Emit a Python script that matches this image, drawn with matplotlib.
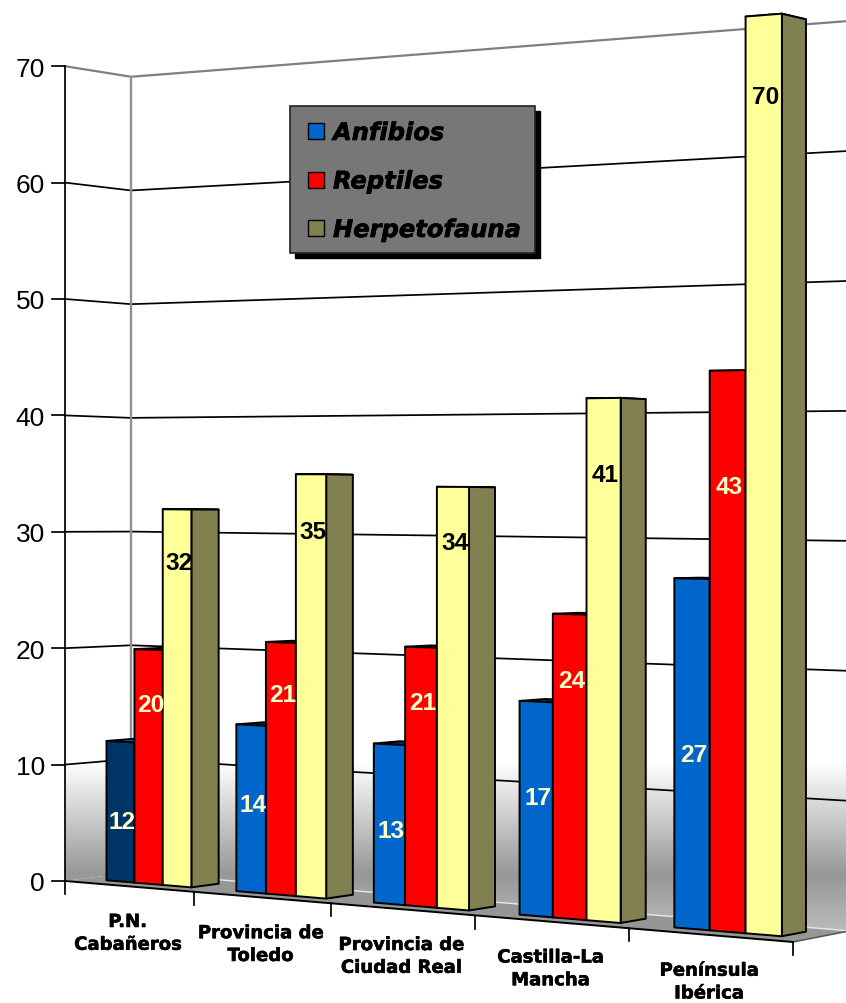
import matplotlib
matplotlib.use('Agg')
import matplotlib.pyplot as plt
import matplotlib.patheffects as pe
import numpy as np
from matplotlib.patches import Polygon, Rectangle

categories = [
    'P.N.\nCabañeros', 'Provincia de\nToledo', 'Provincia de\nCiudad Real',
    'Castilla-La\nMancha', 'Península\nIbérica']
series_names = ['Anfibios', 'Reptiles', 'Herpetofauna']
anfibios = [12, 14, 13, 17, 27]
reptiles = [20, 21, 21, 24, 43]
herpetofauna = [32, 35, 34, 41, 70]
y_ticks = [0, 10, 20, 30, 40, 50, 60, 70]

# how far each value label sits below the top of its bar, in pixels
label_drop = [
    [77, 52, 51],
    [77, 50, 55],
    [84, 53, 53],
    [93, 64, 74],
    [173, 114, 79]]

front_colors = ['#0066CC', '#FF0000', '#FFFF99']
top_colors = ['#003366', '#800000', '#FFFF99']
label_colors = ['#FFFFCC', '#FFFFCC', '#000000']
side_color = '#808050'
legend_colors = ['#0066CC', '#FF0000', '#808050']

# bar layout inside a category cell and inside the floor depth
BAR_START = 0.17
BAR_WIDTH = 0.22
DEPTH_FRONT = 0.30
DEPTH_BACK = 0.72


def project(x, y, z):
    # x: category position, y: value, z: depth (0 front, 1 back wall)
    wx = 1 - 0.0277 * x + 0.0237 * z
    wy = 1 - 0.02566 * x + 0.0237 * z
    px = (123.63 * x + 69.1 * z + 65) / wx
    py = (882 - 12.0 * x - 11.64 * y + 12.4 * z) / wy
    return px, py


fig = plt.figure(figsize=(8.46, 10.04), dpi=100)
ax = fig.add_axes([0, 0, 1, 1])
ax.set_xlim(0, 846)
ax.set_ylim(1004, 0)
ax.axis('off')

n_cat = len(categories)
y_max = y_ticks[-1]

# walls share one vertical shading
walls = [
    [project(0, 0, 0), project(0, y_max, 0),
     project(0, y_max, 1), project(0, 0, 1)],
    [project(0, 0, 1), project(0, y_max, 1),
     project(n_cat, y_max, 1), project(n_cat, 0, 1)]]
rows = np.arange(1004)
shade = np.interp(rows, [0, 762, 875, 935, 1004], [1, 1, 0.59, 0.74, 0.74])
for wall in walls:
    clip = Polygon(wall, transform=ax.transData, facecolor='none', edgecolor='none')
    ax.add_patch(clip)
    im = ax.imshow(
        shade[:, None], cmap='gray', vmin=0, vmax=1, aspect='auto',
        extent=(0, 846, 1004, 0), zorder=1)
    im.set_clip_path(clip)

# floor
floor = [project(0, 0, 0), project(n_cat, 0, 0),
         project(n_cat, 0, 1), project(0, 0, 1)]
ax.add_patch(Polygon(floor, facecolor='#969696', edgecolor='none', zorder=2))
ax.plot(*zip(project(0, 0, 1), project(n_cat, 0, 1)),
        color='#e8e8e8', lw=1.0, zorder=2)
ax.plot(*zip(project(n_cat, 0, 0), project(n_cat, 0, 1)),
        color='#555555', lw=1.1, zorder=2)

# gridlines on the left and back walls
for v in y_ticks[1:]:
    color = '#808080' if v == y_max else 'black'
    lw = 1.6 if v == y_max else 1.25
    pts = [project(0, v, 0), project(0, v, 1), project(n_cat, v, 1)]
    ax.plot(*zip(*pts), color=color, lw=lw, zorder=3)
ax.plot(*zip(project(0, 0, 1), project(0, y_max, 1)),
        color='#909090', lw=1.7, zorder=3)

# value axis
ax.plot(*zip(project(0, 0, 0), project(0, y_max, 0)), color='black', lw=1.25, zorder=4)
for v in y_ticks:
    px, py = project(0, v, 0)
    ax.plot([px - 13, px], [py, py], color='black', lw=1.25, zorder=4)
    ax.text(px - 20, py, str(v), ha='right', va='center_baseline',
            family='Liberation Sans', fontsize=19, color='black')

# category axis
ax.plot(*zip(project(0, 0, 0), project(n_cat, 0, 0)), color='black', lw=1.4, zorder=4)
for i in range(n_cat + 1):
    px, py = project(i, 0, 0)
    ax.plot([px, px], [py, py + 13], color='black', lw=1.25, zorder=4)
for i, name in enumerate(categories):
    px, py = project(i + 0.5, 0, 0)
    ax.text(px - 1, py + 47, name, ha='center', va='center', linespacing=1.34,
            family='DejaVu Sans', weight='bold', fontsize=13, color='black',
            path_effects=[pe.withStroke(linewidth=0.4, foreground='black')])

# bars, left to right so each one hides the side of the previous
values = [anfibios, reptiles, herpetofauna]
for i in range(n_cat):
    for s in range(3):
        v = values[s][i]
        x0 = i + BAR_START + s * BAR_WIDTH
        x1 = x0 + BAR_WIDTH
        front_color = front_colors[s]
        top_color = top_colors[s]
        if s == 0 and i == 0:
            # first point of the series is highlighted
            front_color, top_color = '#003366', '#0066CC'
        top = [project(x0, v, DEPTH_FRONT), project(x1, v, DEPTH_FRONT),
               project(x1, v, DEPTH_BACK), project(x0, v, DEPTH_BACK)]
        side = [project(x1, 0, DEPTH_FRONT), project(x1, v, DEPTH_FRONT),
                project(x1, v, DEPTH_BACK), project(x1, 0, DEPTH_BACK)]
        front = [project(x0, 0, DEPTH_FRONT), project(x0, v, DEPTH_FRONT),
                 project(x1, v, DEPTH_FRONT), project(x1, 0, DEPTH_FRONT)]
        for poly, fc in [(top, top_color), (side, side_color), (front, front_color)]:
            ax.add_patch(Polygon(poly, facecolor=fc, edgecolor='black',
                                 lw=1.4, joinstyle='round', zorder=5))

# value labels go over all the bars
for i in range(n_cat):
    for s in range(3):
        v = values[s][i]
        x0 = i + BAR_START + s * BAR_WIDTH
        px, py = project(x0 + BAR_WIDTH / 2, v, DEPTH_FRONT)
        ax.text(px + 2, py + label_drop[i][s], str(v), ha='center',
                va='center_baseline', family='Liberation Sans', weight='bold',
                fontsize=17.6, color=label_colors[s], zorder=6)

# legend box with drop shadow
ax.add_patch(Rectangle((295, 112), 245, 147, facecolor='black', edgecolor='black', zorder=7))
ax.add_patch(Rectangle((290, 107), 245, 147, facecolor='#777777', edgecolor='#222222',
                       lw=1.2, zorder=8))
for k, name in enumerate(series_names):
    yc = 132 + k * 48.5
    ax.add_patch(Rectangle((308, yc - 8), 16, 16, facecolor=legend_colors[k],
                           edgecolor='black', lw=1.0, zorder=9))
    ax.text(333, yc - 0.5, name, ha='left', va='center_baseline', family='DejaVu Sans',
            weight='bold', style='italic', fontsize=17.4, color='black', zorder=9,
            path_effects=[pe.withStroke(linewidth=0.5, foreground='black')])

fig.savefig('out.png', dpi=100)
